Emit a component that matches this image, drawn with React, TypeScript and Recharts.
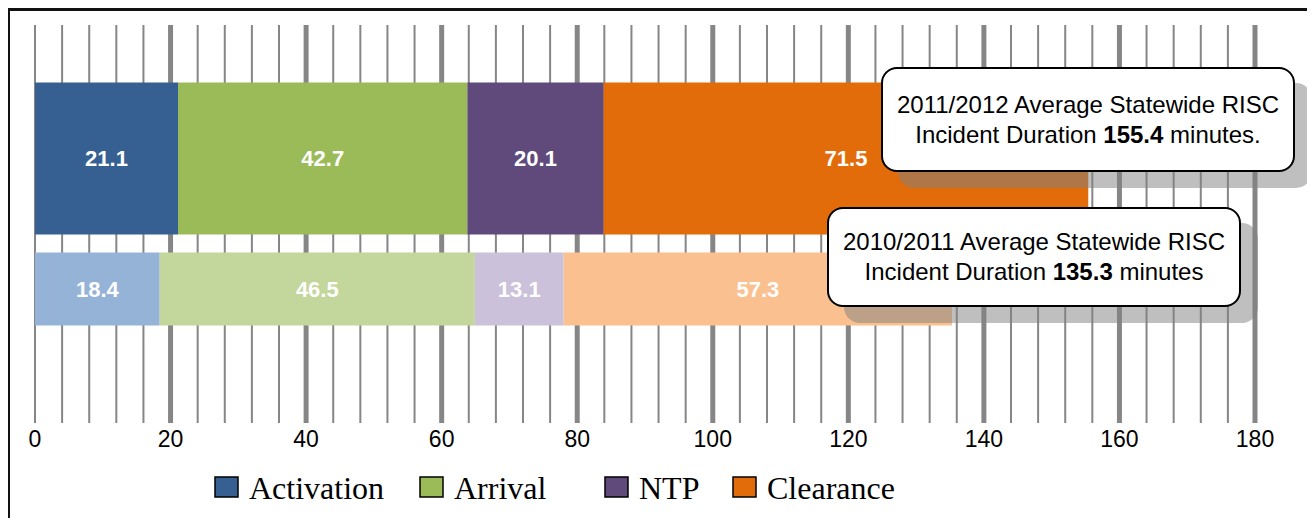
import React from 'react';
import { BarChart, Bar, XAxis, YAxis, CartesianGrid, LabelList } from 'recharts';

// ---------- data ----------
const periods = ['2011/2012', '2010/2011'];
const activation = [21.1, 18.4];
const arrival = [42.7, 46.5];
const ntp = [20.1, 13.1];
const clearance = [71.5, 57.3];
const totals = ['155.4', '135.3'];
const xTickLabels = [0, 20, 40, 60, 80, 100, 120, 140, 160, 180];
const gridStep = 4;

const seriesNames = ['Activation', 'Arrival', 'NTP', 'Clearance'];
const seriesKeys = ['activation', 'arrival', 'ntp', 'clearance'];
const seriesValues = [activation, arrival, ntp, clearance];

// ---------- styles ----------
const darkColors = ['#376092', '#9bbb59', '#604a7b', '#e36c0a'];
const lightColors = ['#95b3d7', '#c3d69b', '#ccc1da', '#fac090'];
const rowColors = [darkColors, lightColors];
const rowThickness = [152, 73];
const SANS = '"Liberation Sans", Arial, sans-serif';
const SERIF = '"Liberation Serif", "Times New Roman", serif';

const data = periods.map((p, i) => {
  const row: any = { period: p };
  seriesKeys.forEach((k, s) => {
    row[k] = seriesValues[s][i];
  });
  return row;
});

const gridTicks = Array.from({ length: 180 / gridStep + 1 }, (_, i) => i * gridStep);

const rowIndex = (props: any) => {
  if (typeof props.index === 'number') return props.index;
  return periods.indexOf(props.payload?.period);
};

const makeShape = (s: number) => (props: any) => {
  const { x, y, width, height } = props;
  const i = rowIndex(props);
  const t = rowThickness[i] ?? height;
  return <rect x={x} y={y + height / 2 - t / 2} width={width} height={t} fill={rowColors[i][s]} />;
};

const GridLine = (p: any) => {
  const v = gridTicks[p.index];
  const major = v % 20 === 0 && v !== 0;
  return (
    <line
      key={p.key}
      x1={p.x1}
      x2={p.x2}
      y1={p.y1}
      y2={p.y2}
      stroke="#868686"
      strokeWidth={major ? 5 : 2}
    />
  );
};

const Tick = (props: any) => {
  const { x, y, payload } = props;
  const v = payload.value;
  if (!xTickLabels.includes(v)) return <g />;
  return (
    <text x={x} y={y} dy={24} textAnchor="middle" fontFamily={SANS} fontSize={23} fill="#000">
      {v}
    </text>
  );
};

const legendX = [215, 420, 605, 733];

const calloutBase: React.CSSProperties = {
  position: 'absolute',
  boxSizing: 'border-box',
  background: '#fff',
  border: '2px solid #000',
  borderRadius: 16,
  display: 'flex',
  flexDirection: 'column',
  alignItems: 'center',
  justifyContent: 'center',
  fontFamily: SANS,
  fontSize: 24,
  lineHeight: '30px',
  color: '#000',
  boxShadow: '17px 16px 0 rgba(128,128,128,0.5)',
  textAlign: 'center',
};

export default function App() {
  return (
    <div style={{ position: 'relative', width: 1307, height: 510, overflow: 'hidden', fontFamily: SANS }}>
      <div
        style={{
          position: 'absolute',
          left: -1,
          top: 0,
          width: 1305,
          height: 540,
          boxSizing: 'border-box',
          border: '3px solid #111',
        }}
      />
      <div style={{ position: 'absolute', left: 0, top: 0 }}>
        <BarChart
          width={1307}
          height={510}
          data={data}
          layout="vertical"
          barCategoryGap={0}
          margin={{ top: 17, right: 60, left: 27, bottom: 65 }}
        >
          <CartesianGrid horizontal={false} vertical={GridLine as any} />
          <XAxis
            type="number"
            domain={[0, 180]}
            ticks={gridTicks}
            interval={0}
            axisLine={false}
            tickLine={false}
            tickSize={0}
            tickMargin={0}
            tick={<Tick />}
            height={30}
          />
          <YAxis type="category" dataKey="period" hide padding={{ top: 68, bottom: 69 }} />
          {seriesKeys.map((k, s) => (
            <Bar
              key={k}
              dataKey={k}
              name={seriesNames[s]}
              stackId="a"
              isAnimationActive={false}
              shape={makeShape(s)}
            >
              <LabelList
                dataKey={k}
                position="center"
                fill="#fff"
                fontSize={22}
                fontWeight="bold"
                fontFamily={SANS}
              />
            </Bar>
          ))}
        </BarChart>
      </div>

      {/* legend */}
      <svg width={1307} height={510} style={{ position: 'absolute', left: 0, top: 0, pointerEvents: 'none' }}>
        {seriesNames.map((n, s) => (
          <g key={n}>
            <rect
              x={legendX[s] - 8}
              y={477 - 8}
              width={23}
              height={20}
              fill={darkColors[s]}
              stroke="#000"
              strokeWidth={1.5}
            />
            <text x={legendX[s] - 8 + 34} y={499 - 8} fontFamily={SERIF} fontSize={32} fill="#000">
              {n}
            </text>
          </g>
        ))}
      </svg>

      {/* callouts */}
      <div style={{ ...calloutBase, left: 873, top: 59, width: 414, height: 105 }}>
        <div>{periods[0]} Average Statewide RISC</div>
        <div>
          Incident Duration <b>{totals[0]}</b> minutes.
        </div>
      </div>
      <div style={{ ...calloutBase, left: 819, top: 199, width: 414, height: 100 }}>
        <div>{periods[1]} Average Statewide RISC</div>
        <div>
          Incident Duration <b>{totals[1]}</b> minutes
        </div>
      </div>
    </div>
  );
}
